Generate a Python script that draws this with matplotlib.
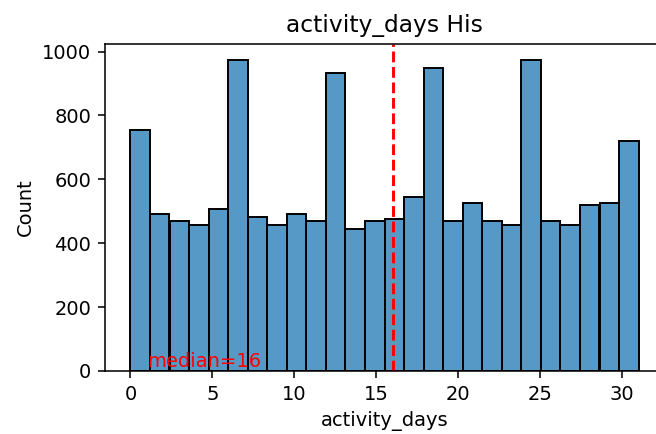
import numpy as np
import pandas as pd
import matplotlib
matplotlib.use("Agg")
import matplotlib.pyplot as plt
import seaborn as sns

# histogram bins: 26 bins between 0 and 31
bin_lo = 0
bin_hi = 31
n_bins = 26
counts = [755, 490, 471, 458, 508, 975, 483, 458, 490, 471,
          933, 446, 471, 477, 546, 949, 471, 527, 471, 458,
          975, 471, 458, 521, 527, 721]
median_days = 16

edges = np.linspace(bin_lo, bin_hi, n_bins + 1)
centers = (edges[:-1] + edges[1:]) / 2
df = pd.DataFrame({"activity_days": centers, "n": counts})

DPI = 140
fig = plt.figure(figsize=(656 / DPI, 434 / DPI), dpi=DPI)
# the original is cropped on the right, so the axes run past the edge
ax = fig.add_axes([105 / 656, 1 - 371 / 434, (664 - 105) / 656, (371 - 44) / 434])

sns.histplot(data=df, x="activity_days", weights="n", bins=list(edges),
             ax=ax, edgecolor="black")

# median line and label
ax.axvline(median_days, color="red", linestyle="--", linewidth=1.5)
ax.text(1, 0, f"median={median_days}", color="red", fontsize=10, va="bottom")

ax.set_title("activity_days His")
ax.set_xlabel("activity_days")
ax.set_ylabel("Count")

fig.savefig("out.png", dpi=DPI)
